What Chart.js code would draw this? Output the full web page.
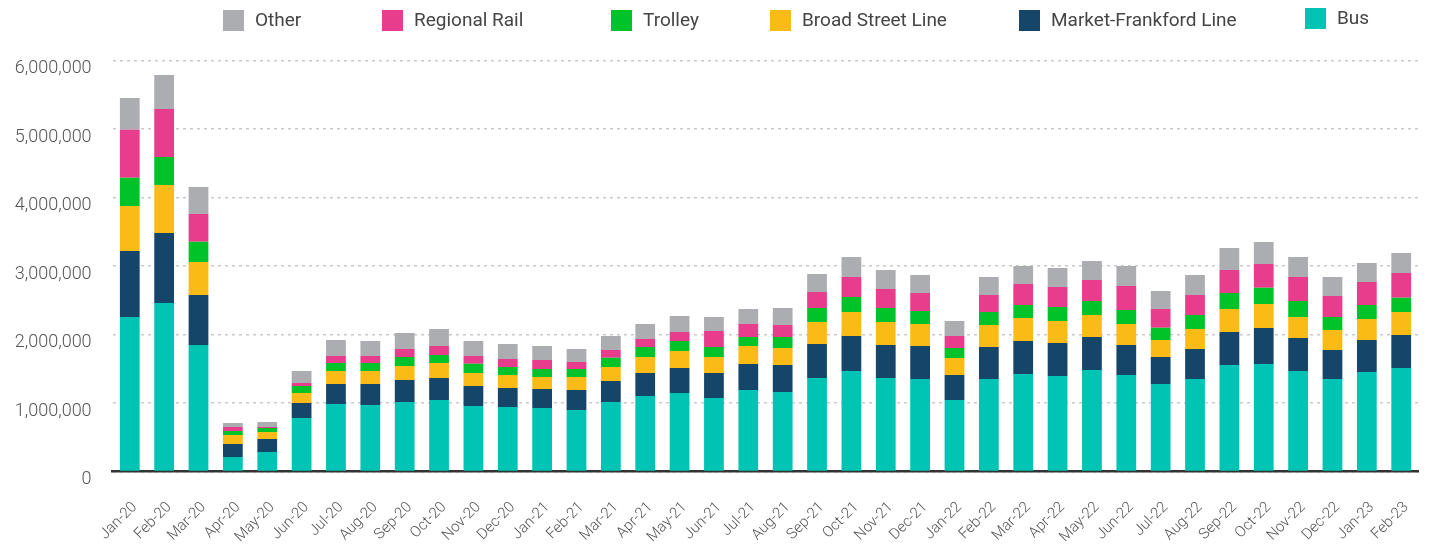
<!DOCTYPE html>
<html>
<head>
<meta charset="utf-8">
<script src="https://cdn.jsdelivr.net/npm/chart.js@4.4.1/dist/chart.umd.min.js"></script>
<style>
  html, body { margin: 0; padding: 0; background: #ffffff; }
  #wrap { position: relative; width: 1441px; height: 546px; }
</style>
</head>
<body>
<div id="wrap"><canvas id="chart"></canvas></div>
<script>
// ---- Data (monthly ridership) ----
const months = [
  'Jan-20','Feb-20','Mar-20','Apr-20','May-20','Jun-20','Jul-20','Aug-20','Sep-20','Oct-20','Nov-20','Dec-20',
  'Jan-21','Feb-21','Mar-21','Apr-21','May-21','Jun-21','Jul-21','Aug-21','Sep-21','Oct-21','Nov-21','Dec-21',
  'Jan-22','Feb-22','Mar-22','Apr-22','May-22','Jun-22','Jul-22','Aug-22','Sep-22','Oct-22','Nov-22','Dec-22',
  'Jan-23','Feb-23'
];
const bus = [
  2255000, 2460000, 1847000, 212000, 285000, 781000, 985000, 971000, 1015000, 1044000, 956000, 942000,
  927000, 898000, 1015000, 1102000, 1146000, 1073000, 1190000, 1161000, 1365000, 1467000, 1365000, 1350000,
  1044000, 1350000, 1423000, 1394000, 1482000, 1409000, 1277000, 1350000, 1555000, 1569000, 1467000, 1350000,
  1453000, 1511000
];
const marketFrankford = [
  964000, 1022000, 730000, 189000, 189000, 219000, 292000, 306000, 321000, 321000, 292000, 277000,
  277000, 292000, 306000, 336000, 365000, 365000, 379000, 394000, 496000, 511000, 482000, 482000,
  365000, 468000, 482000, 482000, 482000, 438000, 395000, 438000, 481000, 526000, 482000, 424000,
  467000, 482000
];
const broadStreet = [
  657000, 700000, 481000, 132000, 103000, 146000, 190000, 190000, 204000, 219000, 190000, 190000,
  176000, 190000, 205000, 234000, 248000, 234000, 263000, 248000, 321000, 350000, 335000, 321000,
  248000, 321000, 336000, 321000, 321000, 306000, 248000, 292000, 336000, 350000, 306000, 292000,
  306000, 335000
];
const trolley = [
  413000, 409000, 297000, 58000, 58000, 102000, 117000, 117000, 132000, 117000, 136000, 117000,
  116000, 116000, 135000, 146000, 146000, 146000, 132000, 161000, 205000, 219000, 205000, 190000,
  146000, 189000, 190000, 204000, 204000, 205000, 179000, 205000, 234000, 238000, 234000, 189000,
  205000, 209000
];
const regionalRail = [
  701000, 701000, 404000, 58000, 15000, 44000, 102000, 102000, 116000, 131000, 112000, 116000,
  132000, 103000, 113000, 116000, 131000, 233000, 189000, 175000, 233000, 292000, 277000, 263000,
  175000, 249000, 306000, 292000, 307000, 350000, 273000, 292000, 336000, 346000, 350000, 307000,
  335000, 361000
];
const other = [
  463000, 496000, 394000, 58000, 73000, 175000, 234000, 219000, 234000, 248000, 219000, 219000,
  204000, 189000, 204000, 219000, 234000, 204000, 219000, 248000, 263000, 292000, 278000, 263000,
  219000, 262000, 263000, 278000, 277000, 292000, 263000, 292000, 321000, 321000, 292000, 277000,
  278000, 292000
];
const yTicks = [0, 1000000, 2000000, 3000000, 4000000, 5000000, 6000000];

// ---- Styling ----
const COLORS = {
  bus: '#00c4b3',
  mfl: '#16456a',
  bsl: '#fbbb16',
  trolley: '#00c32a',
  rr: '#e83c8c',
  other: '#acadb1'
};

// Legend laid out like the reference (left x of each swatch, in legend order)
const LEGEND_X = [223, 382, 611, 770, 1019, 1305];
const LEGEND_Y = [10, 10, 10, 10, 10, 8];
const legendPlugin = {
  id: 'topLegend',
  afterDraw(chart) {
    const ctx = chart.ctx;
    const items = chart.data.datasets.slice().reverse();
    ctx.save();
    ctx.font = '400 19px Roboto, "Noto Sans", sans-serif';
    ctx.textBaseline = 'middle';
    ctx.textAlign = 'left';
    items.forEach((d, i) => {
      const x = LEGEND_X[i];
      const y = LEGEND_Y[i];
      ctx.fillStyle = d.backgroundColor;
      ctx.fillRect(x, y, 21, 21);
      ctx.fillStyle = '#454545';
      ctx.fillText(d.label, x + 32, y + 11);
    });
    ctx.restore();
  }
};

const ds = (label, data, color) => ({
  label, data, backgroundColor: color, borderWidth: 0,
  barPercentage: 0.575, categoryPercentage: 1.0
});

new Chart(document.getElementById('chart'), {
  type: 'bar',
  data: {
    labels: months,
    datasets: [
      ds('Bus', bus, COLORS.bus),
      ds('Market-Frankford Line', marketFrankford, COLORS.mfl),
      ds('Broad Street Line', broadStreet, COLORS.bsl),
      ds('Trolley', trolley, COLORS.trolley),
      ds('Regional Rail', regionalRail, COLORS.rr),
      ds('Other', other, COLORS.other)
    ]
  },
  options: {
    responsive: true,
    maintainAspectRatio: false,
    animation: false,
    layout: { padding: { top: 60.5, right: 5.5, left: 0, bottom: 0 } },
    plugins: {
      legend: { display: false },
      tooltip: { enabled: false }
    },
    scales: {
      x: {
        stacked: true,
        grid: { display: false, drawTicks: false },
        border: { display: true, color: '#333333', width: 2.5 },
        ticks: {
          autoSkip: false,
          maxRotation: 45,
          minRotation: 45,
          padding: 27,
          labelOffset: 5,
          color: '#555555',
          font: { family: 'Roboto, "Noto Sans", sans-serif', size: 15, weight: '300' }
        },
        afterFit: (s) => { s.height = 74.5; }
      },
      y: {
        stacked: true,
        min: 0,
        max: 6000000,
        afterBuildTicks: (s) => { s.ticks = yTicks.map(v => ({ value: v })); },
        grid: { color: '#c9c9c9', lineWidth: 1.5, drawTicks: false },
        border: { display: false, dash: [3, 4] },
        ticks: {
          padding: 21,
          labelOffset: 8,
          color: '#555555',
          font: { family: 'Roboto, "Noto Sans", sans-serif', size: 18, weight: '300' },
          callback: (v) => Number(v).toLocaleString('en-US')
        },
        afterFit: (s) => { s.width = 112.6; }
      }
    }
  },
  plugins: [legendPlugin]
});
</script>
</body>
</html>
